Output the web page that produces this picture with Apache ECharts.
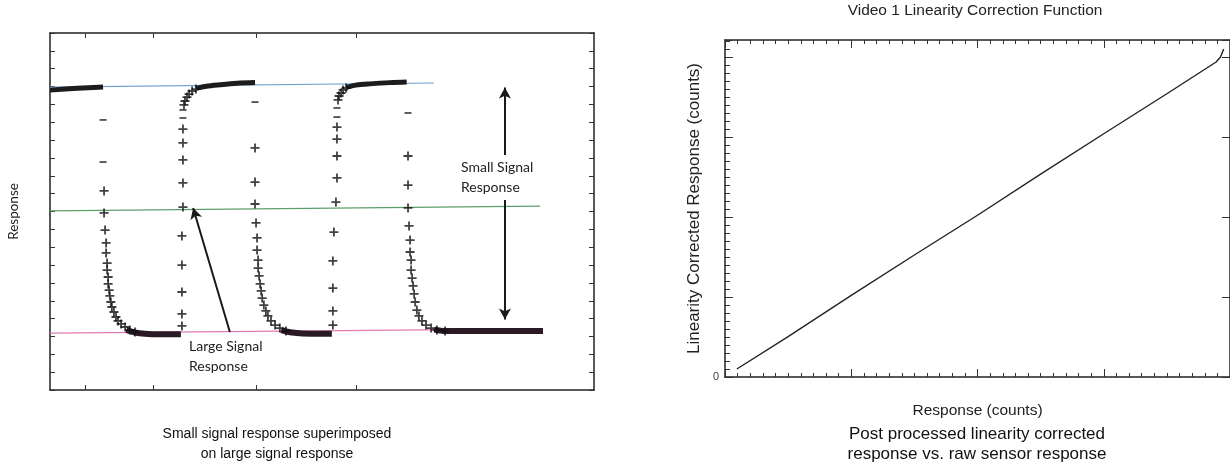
<!DOCTYPE html>
<html>
<head>
    <title>Signal response</title>
    <meta charset="UTF-8">
    <script type="text/javascript" src="https://cdn.jsdelivr.net/npm/echarts@6/dist/echarts.min.js"></script>
    <style>
        html, body { margin: 0; padding: 0; background: #fff; }
        #main { width: 1230px; height: 472px; }
    </style>
</head>
<body>
<div id="main"></div>
<script type="text/javascript">
    // ---- left chart: small signal on large signal (x: sample, y: response ticks) ----
    var blueLine = [[0, 16.97], [112.9, 17.2]];
    var greenLine = [[0, 10.03], [144.1, 10.3]];
    var pinkLine = [[0, 3.19], [145, 3.42]];

    // dense plateaus (overlapping markers)
    var highPlateau1 = [[0, 16.8], [8, 16.9], [15.6, 16.97]];
    var lowPlateau1 = [[22.5, 3.36], [25, 3.22], [28, 3.15], [32, 3.12], [38.5, 3.12]];
    var highPlateau2 = [[43, 16.9], [46, 17.02], [50, 17.1], [55, 17.18], [60.3, 17.22]];
    var lowPlateau2 = [[68, 3.36], [71.2, 3.22], [77, 3.15], [82.9, 3.15]];
    var highPlateau3 = [[87.1, 16.95], [90, 17.08], [94, 17.15], [100, 17.22], [104.9, 17.25]];
    var lowPlateau3 = [[113, 3.38], [116.2, 3.3], [125, 3.3], [135, 3.3], [145, 3.3]];

    // transition samples drawn as "+"
    var plusPoints = [
        [15.9, 11.15], [15.9, 9.92], [16.2, 8.96], [16.5, 8.24], [16.5, 7.68], [16.8, 7.11],
        [16.8, 6.72], [17.1, 6.33], [17.1, 5.94], [17.4, 5.6], [17.6, 5.27], [17.9, 4.93],
        [18.2, 4.65], [18.8, 4.37], [19.4, 4.09], [20, 3.87], [20.9, 3.7], [22.1, 3.53],
        [23.5, 3.36], [25, 3.25],
        [38.8, 3.59], [38.8, 4.26], [38.8, 5.49], [38.8, 7.0], [38.8, 8.63], [39.1, 10.25],
        [39.1, 11.6], [39.1, 12.89], [39.1, 13.84], [39.1, 14.62], [39.4, 15.97], [39.7, 16.19],
        [40.3, 16.41], [40.9, 16.58], [41.8, 16.75], [42.9, 16.86],
        [60.3, 13.56], [60.3, 11.65], [60.3, 10.42], [60.6, 9.36], [60.9, 8.52], [60.9, 7.84],
        [61.2, 7.28], [61.2, 6.83], [61.5, 6.39], [61.8, 5.94], [62.1, 5.55], [62.4, 5.15],
        [62.9, 4.76], [63.5, 4.43], [64.1, 4.15], [65, 3.87], [66.2, 3.64], [67.6, 3.47],
        [69.4, 3.31],
        [83.2, 3.64], [83.2, 4.43], [83.2, 5.71], [83.2, 7.23], [83.5, 8.85], [84.1, 10.53],
        [84.4, 11.88], [84.4, 13.11], [84.4, 14.06], [84.4, 14.73], [84.7, 16.25], [85, 16.47],
        [85.6, 16.64], [86.2, 16.81], [87.1, 16.92],
        [105.3, 13.11], [105.3, 11.48], [105.3, 10.2], [105.6, 9.19], [105.9, 8.4], [105.9, 7.73],
        [106.2, 7.28], [106.2, 6.72], [106.5, 6.27], [106.8, 5.83], [107.1, 5.38], [107.4, 4.93],
        [107.9, 4.48], [108.5, 4.15], [109.4, 3.87], [110.6, 3.64], [112.1, 3.47], [113.8, 3.36],
        [116.2, 3.31]
    ];
    // samples that show only the horizontal stroke
    var dashPoints = [
        [15.6, 15.13], [15.6, 12.77], [39.1, 15.24], [39.1, 15.69],
        [60.3, 16.13], [84.4, 15.29], [84.4, 15.8], [105.3, 15.52]
    ];
    var xTickPos = [10.3, 30.3, 60.6, 90];

    // ---- right chart: linearity correction (counts) ----
    var rawCounts = [94, 500, 1000, 1500, 2000, 2500, 3000, 3500, 3890, 3925, 3950];
    var correctedCounts = [100, 505, 1020, 1525, 2022, 2535, 3040, 3540, 3937, 4000, 4100];

    var plus = 'path://M4,0h2v4h4v2h-4v4h-2v-4h-4v-2h4z';
    var corrected = rawCounts.map(function (x, i) { return [x, correctedCounts[i]]; });

    function boxAxis(grid, pos, extra) {
        var a = {
            gridIndex: grid, type: 'value', position: pos,
            axisLine: { show: true, onZero: false, lineStyle: { color: '#222', width: 1.5 } },
            axisTick: { show: true, inside: true, length: 5, lineStyle: { color: '#333' } },
            axisLabel: { show: false },
            splitLine: { show: false }
        };
        for (var k in extra) { a[k] = extra[k]; }
        return a;
    }

    var leftX = { min: 0, max: 160,
        axisTick: { show: true, inside: true, length: 5, customValues: xTickPos, lineStyle: { color: '#333' } } };
    var leftY = { min: 0, max: 20, interval: 1 };
    var rightX = { min: 0, max: 4000, interval: 1000,
        axisTick: { show: true, inside: true, length: 8, lineStyle: { color: '#333' } },
        minorTick: { show: true, splitNumber: 10, length: 4, lineStyle: { color: '#333' } } };
    var rightY = { min: 0, max: 4212, interval: 1000,
        axisTick: { show: true, inside: true, length: 8, lineStyle: { color: '#333' } },
        minorTick: { show: true, splitNumber: 10, length: 5, lineStyle: { color: '#333' } } };
    var rightY2 = { min: 0, max: 4212, interval: 1000,
        axisTick: { show: true, inside: true, length: 8, lineStyle: { color: '#333' } } };

    function ext(base, more) {
        var o = {};
        for (var k in base) { o[k] = base[k]; }
        for (var m in more) { o[m] = more[m]; }
        return o;
    }

    function plateau(d, col, w) {
        return { type: 'line', xAxisIndex: 0, yAxisIndex: 0, data: d, symbol: 'none', smooth: 0.3,
            lineStyle: { color: col, width: w }, z: 3, silent: true };
    }
    function refLine(d, col) {
        return { type: 'line', xAxisIndex: 0, yAxisIndex: 0, data: d, symbol: 'none',
            lineStyle: { color: col, width: 1.2 }, z: 2, silent: true };
    }

    var myChart = echarts.init(document.getElementById('main'));
    myChart.setOption({
        animation: false,
        textStyle: { fontFamily: 'Liberation Sans' },
        grid: [
            { left: 50, top: 33, width: 544, height: 357 },
            { left: 725, top: 40, width: 511, height: 337 }
        ],
        xAxis: [
            boxAxis(0, 'bottom', leftX),
            boxAxis(0, 'top', leftX),
            boxAxis(1, 'bottom', ext(rightX, {
                name: 'Response (counts)', nameLocation: 'middle', nameGap: 26,
                nameTextStyle: { fontSize: 15.5, color: '#222' } })),
            boxAxis(1, 'top', rightX)
        ],
        yAxis: [
            boxAxis(0, 'left', ext(leftY, {
                name: 'Response', nameLocation: 'middle', nameGap: 29,
                nameTextStyle: { fontSize: 13.5, color: '#222', fontFamily: 'Lato' } })),
            boxAxis(0, 'right', leftY),
            boxAxis(1, 'left', ext(rightY, {
                name: 'Linearity Corrected Response (counts)', nameLocation: 'middle', nameGap: 22,
                nameTextStyle: { fontSize: 17, color: '#222' },
                axisLabel: { show: true, fontSize: 11, color: '#444', margin: 6,
                    formatter: function (v) { return v === 0 ? '0' : ''; } } })),
            boxAxis(1, 'right', rightY2)
        ],
        graphic: [
            { type: 'text', left: 461, top: 157,
                style: { text: 'Small Signal\nResponse', font: '14px Lato', lineHeight: 20, fill: '#222' } },
            { type: 'text', left: 189, top: 336,
                style: { text: 'Large Signal\nResponse', font: '14px Lato', lineHeight: 20, fill: '#222' } },
            { type: 'text', x: 277, y: 434,
                style: { text: 'Small signal response superimposed', font: '14px "Liberation Sans"',
                    fill: '#111', align: 'center', verticalAlign: 'middle' } },
            { type: 'text', x: 277, y: 454,
                style: { text: 'on large signal response', font: '14px "Liberation Sans"',
                    fill: '#111', align: 'center', verticalAlign: 'middle' } },
            { type: 'text', x: 977, y: 434,
                style: { text: 'Post processed linearity corrected', font: '17px "Liberation Sans"',
                    fill: '#111', align: 'center', verticalAlign: 'middle' } },
            { type: 'text', x: 977, y: 454,
                style: { text: 'response vs. raw sensor response', font: '17px "Liberation Sans"',
                    fill: '#111', align: 'center', verticalAlign: 'middle' } },
            { type: 'text', x: 975, y: 11,
                style: { text: 'Video 1 Linearity Correction Function', font: '15.5px "Liberation Sans"',
                    fill: '#222', align: 'center', verticalAlign: 'middle' } }
        ],
        series: [
            refLine(blueLine, '#6f9fcf'),
            refLine(greenLine, '#5a9e68'),
            refLine(pinkLine, '#e27cb4'),
            plateau(highPlateau1, '#1c1c1c', 5),
            plateau(lowPlateau1, '#2a1a25', 6),
            plateau(highPlateau2, '#1c1c1c', 5),
            plateau(lowPlateau2, '#2a1a25', 6),
            plateau(highPlateau3, '#1c1c1c', 5),
            plateau(lowPlateau3, '#2a1a25', 6),
            { type: 'scatter', xAxisIndex: 0, yAxisIndex: 0, data: plusPoints,
                symbol: plus, symbolSize: 9, itemStyle: { color: '#111' }, z: 4, silent: true },
            { type: 'scatter', xAxisIndex: 0, yAxisIndex: 0, data: dashPoints,
                symbol: 'rect', symbolSize: [7, 1.8], itemStyle: { color: '#222' }, z: 4, silent: true },
            // arrows
            { type: 'line', xAxisIndex: 0, yAxisIndex: 0, data: [], silent: true,
                markLine: {
                    silent: true, symbol: ['none', 'arrow'], symbolSize: [9, 11],
                    label: { show: false },
                    lineStyle: { color: '#1a1a1a', width: 2, type: 'solid' },
                    data: [
                        [{ coord: [133.8, 13.17] }, { coord: [133.8, 16.95] }],
                        [{ coord: [133.8, 10.64] }, { coord: [133.8, 3.95] }],
                        [{ coord: [52.9, 3.25] }, { coord: [42.1, 10.2] }]
                    ]
                } },
            { type: 'line', xAxisIndex: 2, yAxisIndex: 2, data: corrected, symbol: 'none',
                lineStyle: { color: '#222', width: 1.4 }, silent: true }
        ]
    });
</script>
</body>
</html>
